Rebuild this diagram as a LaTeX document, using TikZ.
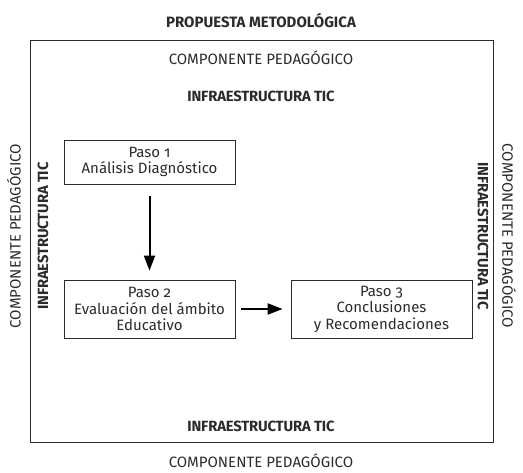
\documentclass[tikz,border=0pt]{standalone}
\usepackage{fontspec}
\setmainfont{Fira Sans}[Numbers=OldStyle]
\usetikzlibrary{arrows.meta}
\definecolor{txt}{HTML}{2B2B2B}
\begin{document}
\begin{tikzpicture}[x=1pt,y=-1pt,
  lbl/.style={text=txt,font=\fontsize{15}{17}\selectfont, inner sep=0pt},
  blbl/.style={text=txt,font=\fontsize{14.8}{17}\selectfont\bfseries\addfontfeatures{LetterSpace=-1}, inner sep=0pt},
  ttl/.style={text=txt,font=\fontsize{15}{17}\selectfont\bfseries, inner sep=0pt},
  stepbox/.style={draw=txt,line width=0.8pt,text=txt,align=center,font=\fontsize{15}{16.5}\selectfont, inner sep=0pt},
  conn/.style={line width=2pt,draw=black,-{Triangle[length=15pt,width=11pt]}}]
\useasboundingbox (0,0) rectangle (523,473);
\draw[draw=txt,line width=0.9pt] (30,40) rectangle (493,442);
\node[ttl] (title) at (261,20) {PROPUESTA METODOLÓGICA};
\node[lbl] (cpt) at (261,58) {COMPONENTE PEDAGÓGICO};
\node[blbl] (itt) at (261,96) {INFRAESTRUCTURA TIC};
\node[blbl] (itb) at (261,426) {INFRAESTRUCTURA TIC};
\node[lbl] (cpb) at (261,461) {COMPONENTE PEDAGÓGICO};
\node[lbl,rotate=90] (cpl) at (14,236) {COMPONENTE PEDAGÓGICO};
\node[blbl,rotate=90] (itl) at (43,236) {INFRAESTRUCTURA TIC};
\node[lbl,rotate=-90] (cpr) at (509,236) {COMPONENTE PEDAGÓGICO};
\node[blbl,rotate=-90] (itr) at (483,236) {INFRAESTRUCTURA TIC};
\node[stepbox,minimum width=171pt,minimum height=44pt] (p1) at (149.5,162) {Paso 1\\Análisis Diagnóstico};
\node[stepbox,minimum width=171pt,minimum height=58pt] (p2) at (149.5,309) {Paso 2\\Evaluación del ámbito\\Educativo};
\node[stepbox,minimum width=181pt,minimum height=58pt] (p3) at (381.5,309) {Paso 3\\Conclusiones\\y Recomendaciones};
\draw[conn] ([yshift=-12pt]p1.south) -- ([yshift=9pt]p2.north);
\draw[conn] ([xshift=6pt]p2.east) -- ([xshift=-8pt]p3.west);
\end{tikzpicture}
\end{document}
